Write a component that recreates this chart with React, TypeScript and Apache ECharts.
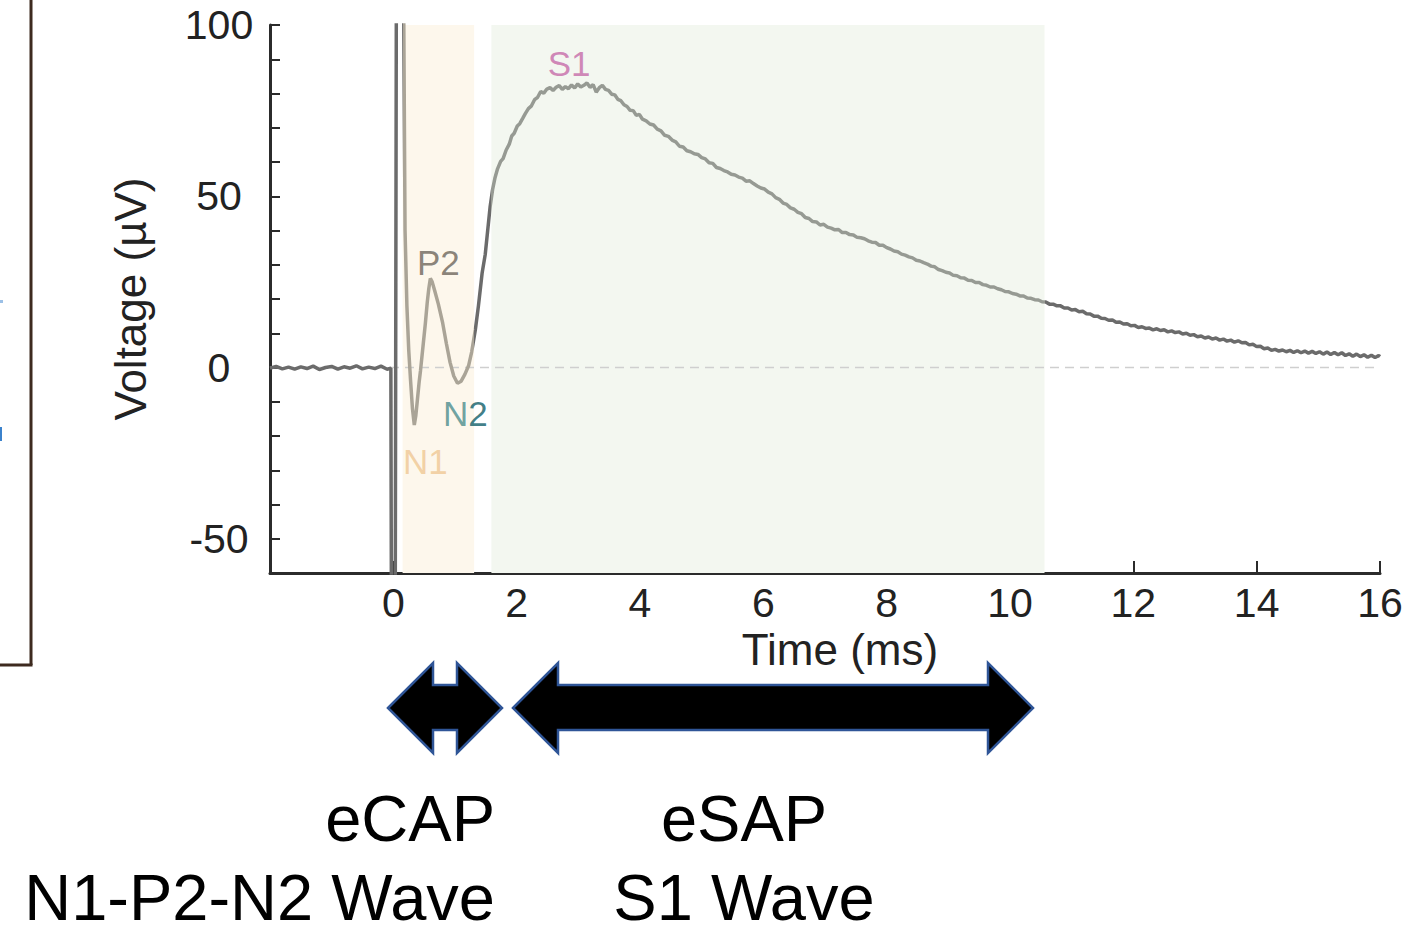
import React, { useEffect, useRef } from "react";
import * as echarts from "echarts";

const FONT = '"Liberation Sans", Arial, Helvetica, sans-serif';

// x-axis (ms) and y-axis (µV) ranges / ticks
const xTicks = [0, 2, 4, 6, 8, 10, 12, 14, 16];
const yLabelValues = [-50, 0, 50, 100];

// recording trace: [time ms, voltage µV]
const baselineTrace: number[][] = [
  [-2.0, -0.2], [-1.9, 0.3], [-1.8, -0.4], [-1.7, 0.1], [-1.6, -0.5], [-1.5, 0.2],
  [-1.4, -0.3], [-1.3, 0.4], [-1.2, -0.6], [-1.1, 0.0], [-1.0, 0.3], [-0.9, -0.5],
  [-0.8, 0.2], [-0.7, -0.2], [-0.6, 0.5], [-0.5, -0.4], [-0.4, 0.1], [-0.3, -0.3],
  [-0.2, 0.4], [-0.1, -0.5], [-0.04, -0.2],
];
const artifactTrace: number[][] = [
  [-0.03, -80], [0.03, -80], [0.05, 120], [0.15, 120],
];
const ecapTrace: number[][] = [
  [0.17, 100], [0.19, 40], [0.22, 18], [0.25, 5], [0.28, -4], [0.31, -12], [0.34, -16.8],
  [0.365, -14], [0.39, -9.5], [0.42, -4], [0.44, -1], [0.48, 6], [0.52, 13], [0.55, 19],
  [0.575, 23], [0.6, 26], [0.63, 25], [0.67, 22.5], [0.73, 18.5], [0.8, 13], [0.86, 7],
  [0.92, 1.5], [0.98, -2.5], [1.04, -4.6], [1.1, -4], [1.16, -2], [1.22, 0.5], [1.27, 4.5],
  [1.33, 11], [1.38, 18], [1.44, 27.6], [1.49, 33], [1.53, 40], [1.57, 47],
];
const esapTrace: number[][] = [
  [1.61, 52], [1.65, 55.5], [1.69, 58], [1.74, 60.2], [1.78, 61], [1.83, 63.5], [1.88, 65.2],
  [1.92, 67.6], [1.96, 68.4], [2.01, 70.5], [2.05, 71.2], [2.1, 72.8], [2.14, 74.1], [2.19, 75.6],
  [2.24, 76.4], [2.29, 78.2], [2.34, 78.9], [2.39, 80.6], [2.44, 80.1], [2.49, 81.3], [2.54, 81.7],
  [2.59, 80.9], [2.64, 81.8], [2.69, 82.3], [2.74, 81.2], [2.79, 82.0], [2.84, 81.4], [2.89, 82.5],
  [2.94, 81.6], [2.99, 82.8], [3.04, 81.9], [3.09, 82.4], [3.14, 83.1], [3.19, 81.8], [3.24, 82.6],
  [3.29, 80.4], [3.34, 81.7], [3.39, 82.4], [3.44, 81.2], [3.49, 80.9], [3.54, 79.8], [3.59, 79.6],
  [3.64, 78.3], [3.69, 77.9], [3.74, 76.7], [3.79, 76.2], [3.84, 75.1], [3.89, 75.0], [3.94, 73.6],
  [3.99, 73.9], [4.04, 72.5], [4.1, 72.0], [4.16, 71.1], [4.22, 70.8], [4.28, 69.6], [4.34, 69.1],
  [4.4, 67.8], [4.46, 67.5], [4.52, 66.4], [4.58, 65.9], [4.64, 64.6], [4.7, 64.4], [4.76, 63.3],
  [4.82, 63.0], [4.88, 62.4], [4.94, 62.2], [5.0, 61.3], [5.06, 60.9], [5.12, 59.8], [5.18, 59.6],
  [5.24, 58.4], [5.3, 58.1], [5.36, 57.5], [5.42, 57.1], [5.48, 56.4], [5.54, 56.2], [5.6, 55.6],
  [5.66, 55.3], [5.72, 54.4], [5.78, 54.5], [5.84, 53.7], [5.9, 53.0], [5.96, 52.4], [6.02, 52.1],
  [6.08, 51.2], [6.14, 50.7], [6.2, 49.6], [6.26, 49.1], [6.32, 48.0], [6.38, 47.6], [6.44, 46.6],
  [6.5, 46.2], [6.56, 45.3], [6.62, 44.9], [6.68, 43.8], [6.74, 43.5], [6.8, 42.6], [6.86, 42.5],
  [6.92, 41.6], [6.98, 41.8], [7.04, 41.0], [7.1, 40.7], [7.16, 40.2], [7.22, 40.3], [7.28, 39.4],
  [7.34, 39.4], [7.4, 38.8], [7.46, 38.7], [7.52, 38.0], [7.58, 37.9], [7.64, 37.6], [7.7, 37.0],
  [7.76, 36.6], [7.82, 36.5], [7.88, 35.7], [7.94, 35.7], [8.0, 35.0], [8.06, 34.6], [8.12, 34.0],
  [8.18, 33.8], [8.24, 33.1], [8.3, 32.8], [8.36, 32.3], [8.42, 32.0], [8.48, 31.3], [8.54, 31.1],
  [8.6, 30.6], [8.66, 30.2], [8.72, 29.6], [8.78, 29.4], [8.84, 28.6], [8.9, 28.3], [8.96, 27.8],
  [9.02, 27.6], [9.08, 26.9], [9.14, 26.8], [9.2, 26.2], [9.26, 26.1], [9.32, 25.5], [9.38, 25.4],
  [9.44, 24.8], [9.5, 24.8], [9.56, 24.2], [9.62, 24.0], [9.68, 23.5], [9.74, 23.5], [9.8, 23.0],
  [9.86, 22.7], [9.92, 22.2], [9.98, 22.1], [10.04, 21.6], [10.1, 21.4], [10.16, 20.9], [10.22, 20.9],
  [10.28, 20.3], [10.34, 20.2], [10.4, 19.8], [10.46, 19.7], [10.52, 19.2], [10.58, 19.1], [10.64, 18.5],
  [10.7, 18.5], [10.76, 18.0], [10.82, 18.0], [10.88, 17.4], [10.94, 17.4], [11.0, 16.8], [11.06, 16.9],
  [11.12, 16.3], [11.18, 16.4], [11.24, 15.7], [11.3, 15.6], [11.36, 15.0], [11.42, 15.0], [11.48, 14.4],
  [11.54, 14.3], [11.6, 13.8], [11.66, 13.9], [11.72, 13.2], [11.78, 13.3], [11.84, 12.7], [11.9, 12.8],
  [11.96, 12.2], [12.02, 12.3], [12.08, 11.7], [12.14, 11.9], [12.2, 11.4], [12.26, 11.5], [12.32, 11.0],
  [12.38, 11.3], [12.44, 10.8], [12.5, 11.0], [12.56, 10.4], [12.62, 10.7], [12.68, 10.2], [12.74, 10.4],
  [12.8, 9.8], [12.86, 10.0], [12.92, 9.4], [12.98, 9.6], [13.04, 9.0], [13.1, 9.2], [13.16, 8.6],
  [13.22, 8.9], [13.28, 8.3], [13.34, 8.6], [13.4, 8.0], [13.46, 8.3], [13.52, 7.7], [13.58, 8.0],
  [13.64, 7.4], [13.7, 7.8], [13.76, 7.2], [13.82, 7.3], [13.88, 6.6], [13.94, 6.8], [14.0, 6.1],
  [14.06, 6.2], [14.12, 5.5], [14.18, 5.7], [14.24, 5.0], [14.3, 5.3], [14.36, 4.8], [14.42, 5.1],
  [14.48, 4.6], [14.54, 5.0], [14.6, 4.4], [14.66, 4.9], [14.72, 4.3], [14.78, 4.8], [14.84, 4.2],
  [14.9, 4.7], [14.96, 4.1], [15.02, 4.6], [15.08, 3.9], [15.14, 4.5], [15.2, 3.8], [15.26, 4.4],
  [15.32, 3.7], [15.38, 4.3], [15.44, 3.5], [15.5, 4.0], [15.56, 3.3], [15.62, 3.9], [15.68, 3.2],
  [15.74, 3.7], [15.8, 3.0], [15.86, 3.6], [15.92, 2.9], [15.98, 3.5], [16.0, 3.2],
];

// shaded windows (ms)
const ecapWindow = [0.15, 1.31];
const esapWindow = [1.59, 10.56];

// peak labels: [name, time, voltage]
const peakLabels: [string, number, number][] = [
  ["S1", 2.85, 88.9],
  ["P2", 0.73, 30.8],
  ["N2", 1.17, -13.3],
  ["N1", 0.52, -27.3],
];

const DARK = "#6b6b6b";
const BEIGE = "#aaa497";
const SAGE = "#969a93";

export default function App() {
  const ref = useRef<HTMLDivElement>(null);

  useEffect(() => {
    if (!ref.current) return;
    const chart = echarts.init(ref.current, undefined, { renderer: "svg" });

    const trace = [...baselineTrace, ...artifactTrace, ...ecapTrace, ...esapTrace];

    const labelStyles: Record<string, any> = {
      S1: { color: "#c66aa8" },
      P2: { color: "#6c655b" },
      N1: { color: "#efc793" },
      N2: {
        formatter: "{a|N}{b|2}",
        rich: {
          a: { color: "#4b8c8c", fontSize: 35, fontFamily: FONT },
          b: { color: "#0f5d67", fontSize: 35, fontFamily: FONT },
        },
      },
    };

    const arrowStyle = { fill: "#000000", stroke: "#2f5597", lineWidth: 2.5 };

    chart.setOption({
      animation: false,
      backgroundColor: "#ffffff",
      grid: { left: 270, right: 44, top: 25, bottom: 359, containLabel: false },
      xAxis: {
        type: "value",
        min: -2,
        max: 16,
        interval: 2,
        name: "Time (ms)",
        nameLocation: "middle",
        nameGap: 53,
        nameTextStyle: { fontSize: 44, color: "#222", fontFamily: FONT, padding: [0, 0, 0, 30] },
        axisLine: { onZero: false, lineStyle: { color: "#2b2b2b", width: 3 } },
        axisTick: { inside: true, length: 12, lineStyle: { color: "#2b2b2b", width: 2 } },
        axisLabel: {
          fontSize: 41,
          color: "#222",
          fontFamily: FONT,
          margin: 9,
          formatter: (v: number) => (xTicks.includes(v) ? String(v) : ""),
        },
        splitLine: { show: false },
      },
      yAxis: {
        type: "value",
        min: -60,
        max: 100,
        interval: 10,
        name: "Voltage (µV)",
        nameLocation: "middle",
        nameGap: 118,
        nameTextStyle: { fontSize: 44, color: "#222", fontFamily: FONT },
        axisLine: { onZero: false, lineStyle: { color: "#2b2b2b", width: 3 } },
        axisTick: { inside: true, length: 10, lineStyle: { color: "#2b2b2b", width: 2 } },
        axisLabel: {
          fontSize: 41,
          color: "#222",
          fontFamily: FONT,
          margin: 51,
          align: "center",
          formatter: (v: number) => (yLabelValues.includes(v) ? String(v) : ""),
        },
        splitLine: { show: false },
      },
      visualMap: {
        show: false,
        type: "piecewise",
        seriesIndex: 0,
        dimension: 0,
        pieces: [
          { lt: ecapWindow[0], color: DARK },
          { gte: ecapWindow[0], lt: ecapWindow[1], color: BEIGE },
          { gte: ecapWindow[1], lt: esapWindow[0], color: DARK },
          { gte: esapWindow[0], lt: esapWindow[1], color: SAGE },
          { gte: esapWindow[1], color: DARK },
        ],
      },
      series: [
        {
          type: "line",
          data: trace,
          showSymbol: false,
          symbol: "none",
          z: 5,
          clip: true,
          lineStyle: { width: 3.5 },
        },
        {
          type: "line",
          data: [],
          z: 1,
          silent: true,
          markArea: {
            silent: true,
            data: [
              [
                { coord: [ecapWindow[0], -60], itemStyle: { color: "#fdf7ec" } },
                { coord: [ecapWindow[1], 100] },
              ],
              [
                { coord: [esapWindow[0], -60], itemStyle: { color: "#f3f7f0" } },
                { coord: [esapWindow[1], 100] },
              ],
            ],
          },
        },
        {
          type: "line",
          data: [[-2, 0], [16, 0]],
          symbol: "none",
          z: 2,
          silent: true,
          lineStyle: { color: "#cfcfcf", width: 1.5, type: [9, 6] },
        },
        {
          type: "scatter",
          z: 6,
          symbolSize: 1,
          itemStyle: { color: "rgba(0,0,0,0)" },
          data: peakLabels.map(([name, t, v]) => ({
            value: [t, v],
            label: {
              show: true,
              position: "inside",
              formatter: name,
              fontSize: 35,
              fontFamily: FONT,
              ...labelStyles[name],
            },
          })),
        },
      ],
      graphic: [
        { type: "line", shape: { x1: 31, y1: 0, x2: 31, y2: 665 }, style: { stroke: "#3d2a1f", lineWidth: 3 } },
        { type: "line", shape: { x1: 0, y1: 665, x2: 32.5, y2: 665 }, style: { stroke: "#3d2a1f", lineWidth: 3 } },
        { type: "rect", shape: { x: 0, y: 300, width: 3, height: 3 }, style: { fill: "#9cc0e6" } },
        { type: "rect", shape: { x: 0, y: 427, width: 2, height: 14 }, style: { fill: "#3b82cc" } },
        {
          type: "polygon",
          shape: {
            points: [
              [388, 708], [433, 663], [433, 685], [457, 685], [457, 663],
              [502, 708], [457, 753], [457, 730], [433, 730], [433, 753],
            ],
          },
          style: arrowStyle,
        },
        {
          type: "polygon",
          shape: {
            points: [
              [513, 708], [558, 663], [558, 685], [988, 685], [988, 663],
              [1033, 708], [988, 753], [988, 730], [558, 730], [558, 753],
            ],
          },
          style: arrowStyle,
        },
        {
          type: "text", x: 495, y: 818,
          style: { text: "eCAP", font: `65px ${FONT}`, fill: "#000", textAlign: "right", textVerticalAlign: "middle" },
        },
        {
          type: "text", x: 495, y: 897,
          style: { text: "N1-P2-N2 Wave", font: `65px ${FONT}`, fill: "#000", textAlign: "right", textVerticalAlign: "middle" },
        },
        {
          type: "text", x: 744, y: 818,
          style: { text: "eSAP", font: `65px ${FONT}`, fill: "#000", textAlign: "center", textVerticalAlign: "middle" },
        },
        {
          type: "text", x: 744, y: 897,
          style: { text: "S1 Wave", font: `65px ${FONT}`, fill: "#000", textAlign: "center", textVerticalAlign: "middle" },
        },
      ],
    });

    return () => chart.dispose();
  }, []);

  return (
    <div
      ref={ref}
      style={{ position: "fixed", left: 0, top: 0, width: 1424, height: 932, background: "#fff" }}
    />
  );
}
